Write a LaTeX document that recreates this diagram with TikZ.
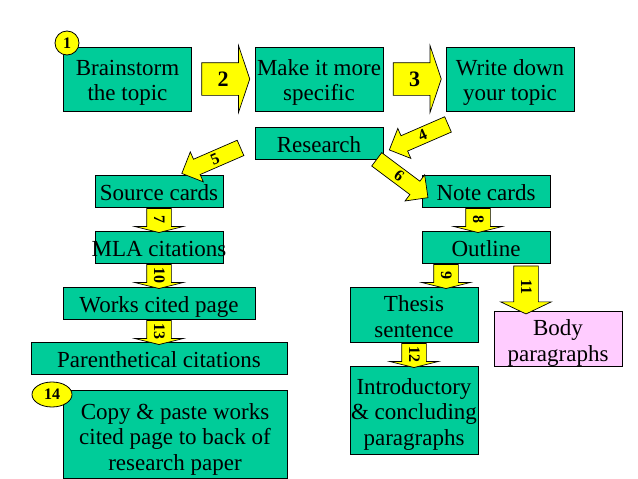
\documentclass[tikz,border=0pt]{standalone}
\usepackage{fontspec}
\setmainfont{Liberation Serif}
\usetikzlibrary{shapes.arrows,shapes.geometric}
\definecolor{cardgreen}{RGB}{0,204,153}
\definecolor{cardpink}{RGB}{255,204,255}
\definecolor{arrowyellow}{RGB}{255,255,0}
\tikzset{
  cardbox/.style={draw=black, fill=cardgreen, line width=0.8pt, inner sep=0pt, align=center,
    text height=#1, text depth=5pt, font=\fontsize{23}{25.5}\selectfont},
  cardbox/.default=23pt,
  blockarrow/.style={single arrow, draw=black, fill=arrowyellow, line width=0.7pt, inner sep=0pt,
    font=\bfseries\fontsize{16}{16}\selectfont},
  wideright/.style={blockarrow, font=\bfseries\fontsize{22}{22}\selectfont,
    text height=23pt, text depth=9pt, minimum height=48pt, minimum width=66pt,
    single arrow head extend=17pt, single arrow tip angle=143},
  slantleft/.style={blockarrow, text height=13pt, text depth=3pt, minimum height=64pt, minimum width=32pt,
    single arrow head extend=8pt, single arrow tip angle=90, shape border rotate=180, rotate=23.5},
  slantright/.style={blockarrow, text height=13pt, text depth=3pt, minimum height=64pt, minimum width=32pt,
    single arrow head extend=8pt, single arrow tip angle=90, rotate=-36.8},
  shortdown/.style={blockarrow, text height=17pt, text depth=7pt, minimum height=24pt, minimum width=48pt,
    single arrow head extend=12pt, single arrow tip angle=152, rotate=-90},
  longdown/.style={blockarrow, text height=17pt, text depth=7pt, minimum height=48pt, minimum width=50pt,
    single arrow head extend=13pt, single arrow tip angle=129, rotate=-90},
  stepmark/.style={ellipse, draw=black, fill=arrowyellow, line width=0.8pt, inner sep=0pt,
    font=\bfseries\fontsize{16}{16}\selectfont}
}
\begin{document}
\begin{tikzpicture}[x=1pt,y=-1pt]
  \useasboundingbox (0,0) rectangle (638,479);

  \node[cardbox=48.5pt, minimum width=128pt, minimum height=64pt] (brainstorm) at (127.5,79) {Brainstorm\\the topic};
  \node[cardbox=48.5pt, minimum width=128pt, minimum height=64pt] (specific) at (319,79) {Make it more\\specific};
  \node[cardbox=48.5pt, minimum width=128pt, minimum height=64pt] (writedown) at (510,79) {Write down\\your topic};
  \node[cardbox, minimum width=128pt, minimum height=32pt] (research) at (319,143) {Research};
  \node[cardbox, minimum width=128pt, minimum height=32pt] (source) at (159,191) {Source cards};
  \node[cardbox, minimum width=128pt, minimum height=32pt] (mla) at (159,247) {\makebox[0pt]{MLA citations}};
  \node[cardbox, minimum width=192pt, minimum height=32pt] (workscited) at (159,303) {Works cited page};
  \node[cardbox, minimum width=256pt, minimum height=32pt] (parenthetical) at (159,358) {Parenthetical citations};
  \node[cardbox=77pt, minimum width=224pt, minimum height=88pt] (copypaste) at (175,434) {Copy \& paste works\\cited page to back of\\research paper};
  \node[cardbox, minimum width=128pt, minimum height=32pt] (notecards) at (486,191) {Note cards};
  \node[cardbox, minimum width=128pt, minimum height=32pt] (outline) at (486,247) {Outline};
  \node[cardbox=50pt, minimum width=128pt, minimum height=55pt] (thesis) at (414,314.5) {Thesis\\sentence};
  \node[cardbox=50pt, fill=cardpink, minimum width=128pt, minimum height=55pt] (body) at (558,338.5) {Body\\paragraphs};
  \node[cardbox=75pt, minimum width=128pt, minimum height=88pt] (intro) at (414,410) {Introductory\\\& concluding\\paragraphs};

  \node[wideright] (arrow2) at (223,79) {2};
  \node[wideright] (arrow3) at (414.5,79) {3};
  \node[slantleft] (arrow4) at (422.5,135.5) {4};
  \node[slantleft] (arrow5) at (215,159) {5};
  \node[slantright] (arrow6) at (399,176) {6};
  \node[shortdown] (arrow7) at (159,219) {7};
  \node[shortdown] (arrow8) at (478,219) {8};
  \node[shortdown] (arrow9) at (446,275) {9};
  \node[shortdown] (arrow10) at (159,275) {10};
  \node[longdown] (arrow11) at (526,287) {11};
  \node[shortdown] (arrow12) at (414,354) {12};
  \node[shortdown] (arrow13) at (159,331) {13};

  \node[stepmark, minimum width=24pt, minimum height=24pt] (mark1) at (67,43) {1};
  \node[stepmark, minimum width=40pt, minimum height=25pt] (mark14) at (52,394.5) {14};
\end{tikzpicture}
\end{document}
